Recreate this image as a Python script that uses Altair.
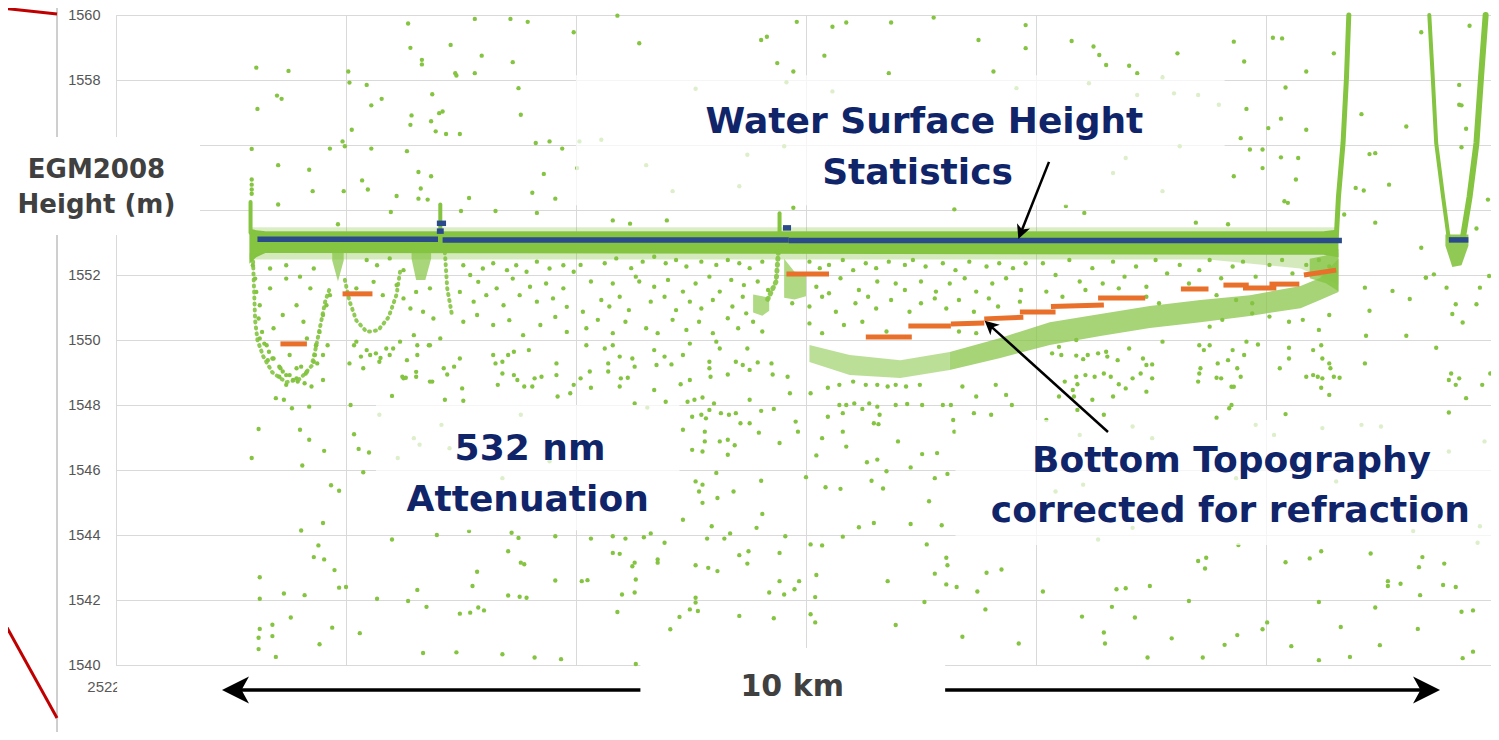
import altair as alt
import pandas as pd

# ---------------- colours / fonts ----------------
GREEN = "#84C441"
BLUE = "#2A4A8C"
ORANGE = "#E8702A"
NAVY = "#10246A"
DARK = "#404040"
GRID = "#D9D9D9"

# ---------------- axes ----------------
X_START_M = 2522000          # along-track distance of left edge (m)
X_TICKS = [0, 2, 4, 6, 8, 10]  # km from left edge
Y_TICKS = list(range(1540, 1561, 2))
Y_HIDDEN = [1554, 1556]        # labels covered by the slide's axis-title box
X_MAX = 1375 / 115

# ---------------- water surface statistics (blue) : x, x2, y ----------------
surface_stats = [
    (1.23, 2.80, 1553.10), (2.84, 5.85, 1553.08), (5.85, 10.66, 1553.06),
    (11.59, 11.76, 1553.08), (2.79, 2.87, 1553.59), (2.79, 2.85, 1553.35),
    (5.80, 5.87, 1553.45),
]

# ---------------- bottom topography (orange) : x, x2, y, y2 ----------------
bottom_topo = [
    (1.43, 1.66, 1549.88, 1549.88), (1.97, 2.23, 1551.42, 1551.42),
    (5.83, 6.20, 1552.03, 1552.03), (6.52, 6.92, 1550.09, 1550.09),
    (6.89, 7.26, 1550.43, 1550.43), (7.26, 7.55, 1550.49, 1550.52),
    (7.55, 7.89, 1550.65, 1550.70), (7.86, 8.17, 1550.86, 1550.86),
    (8.13, 8.59, 1551.03, 1551.08), (8.54, 8.95, 1551.29, 1551.29),
    (9.26, 9.50, 1551.57, 1551.57), (9.63, 9.85, 1551.69, 1551.69),
    (9.80, 10.09, 1551.60, 1551.60), (10.03, 10.29, 1551.72, 1551.72),
    (10.33, 10.61, 1552.00, 1552.15),
]

# ---------------- dense photon returns drawn as bands : name, xs, tops, bottoms, opacity ----------------
dense_bands = [
    ("surface", [1.16, 1.22, 1.30, 10.50, 10.63], [1553.42, 1553.38, 1553.35, 1553.35, 1553.40],
     [1552.35, 1552.55, 1552.68, 1552.62, 1552.55], 1.0),
    ("surface_low", [1.16, 9.5, 10.3, 10.63], [1552.68, 1552.68, 1552.68, 1552.68],
     [1552.48, 1552.48, 1552.2, 1551.7], 0.35),
    ("surface_top", [1.16, 10.63], [1553.47, 1553.47], [1553.35, 1553.35], 0.3),
    ("connector", [10.38, 10.52, 10.63], [1552.5, 1552.6, 1552.8], [1551.9, 1551.75, 1551.5], 0.75),
    ("bed_left", [6.03, 6.38, 6.82, 7.25], [1549.85, 1549.54, 1549.38, 1549.63],
     [1549.32, 1548.92, 1548.83, 1549.08], 0.55),
    ("bed_right", [7.25, 7.69, 8.12, 8.56, 8.99, 9.43, 9.86, 10.30, 10.47, 10.63],
     [1549.63, 1550.06, 1550.55, 1550.80, 1551.05, 1551.23, 1551.38, 1551.66, 1551.91, 1552.5],
     [1549.08, 1549.45, 1549.85, 1550.12, 1550.37, 1550.55, 1550.74, 1550.98, 1551.23, 1551.48], 0.72),
    ("v_blob", [11.56, 11.62, 11.70, 11.76], [1553.25, 1553.25, 1553.25, 1553.25],
     [1552.9, 1552.25, 1552.3, 1552.9], 0.9),
    ("blob_790", [5.81, 5.90, 6.00], [1552.5, 1552.1, 1552.05], [1551.3, 1551.25, 1551.35], 0.65),
    ("blob_760", [5.54, 5.62, 5.68], [1551.4, 1551.35, 1551.3], [1550.85, 1550.75, 1550.9], 0.65),
    ("dip_streak", [1.88, 1.93, 1.98], [1552.7, 1552.7, 1552.7], [1552.45, 1551.80, 1552.45], 0.7),
    ("streak_425", [2.57, 2.61, 2.69, 2.74], [1552.7, 1552.7, 1552.7, 1552.7],
     [1552.5, 1551.85, 1551.85, 1552.5], 0.7),
]

# ---------------- dense photon tracks : name, points, width, opacity ----------------
solid_tracks = [
    ("rise", [(10.61, 1553.08), (10.63, 1554.40), (10.67, 1556.06), (10.70, 1558.09), (10.72, 1560.0)], 5, 1.0),
    ("v_left", [(11.42, 1560.0), (11.45, 1558.09), (11.48, 1556.06), (11.54, 1554.40), (11.59, 1553.1)], 4, 1.0),
    ("v_right", [(11.71, 1553.1), (11.77, 1554.40), (11.83, 1556.06), (11.87, 1558.09), (11.91, 1560.0)], 6, 1.0),
    ("spike1", [(1.17, 1553.3), (1.17, 1554.25)], 4, 1.0),
    ("spike2", [(2.82, 1553.3), (2.82, 1554.17)], 4, 1.0),
    ("spike3", [(5.77, 1553.3), (5.77, 1553.9)], 4, 1.0),
]
dotted_tracks = [
    ("left_u", [(1.19, 1552.6), (1.20, 1551.6), (1.21, 1550.6), (1.23, 1550.0), (1.28, 1549.5), (1.36, 1549.0),
                (1.48, 1548.7), (1.60, 1548.8), (1.70, 1549.2), (1.74, 1549.8), (1.78, 1550.5), (1.82, 1551.2),
                (1.86, 1551.6)], 4, 0.9),
    ("mid_u", [(1.99, 1551.85), (2.03, 1551.2), (2.09, 1550.6), (2.18, 1550.25), (2.28, 1550.3), (2.37, 1550.7),
               (2.44, 1551.4), (2.47, 1552.1)], 4, 0.9),
    ("streak_440", [(2.86, 1552.7), (2.88, 1551.6), (2.92, 1550.8)], 4, 0.9),
    ("streak_760", [(5.76, 1552.7), (5.74, 1551.8), (5.66, 1551.2)], 5, 0.9),
]

# ---------------- scattered photons (km, m) ----------------
ph_top_left = [
    (1.22, 1558.38), (1.50, 1558.28), (1.23, 1557.11), (1.40, 1557.52), (1.44, 1557.42), (1.18, 1555.88),
    (1.41, 1555.38), (1.68, 1555.24), (1.71, 1554.58), (1.41, 1554.17), (1.18, 1554.94), (1.18, 1554.78),
    (1.18, 1554.63), (1.18, 1554.50), (1.86, 1555.89), (1.97, 1556.11), (1.99, 1555.96), (1.93, 1553.56),
    (1.98, 1554.58), (2.02, 1558.26), (2.03, 1557.92), (2.05, 1556.47), (2.18, 1557.85), (2.22, 1557.22),
    (2.31, 1557.42), (2.22, 1555.89), (2.14, 1554.91), (2.19, 1554.63), (2.54, 1559.74), (2.56, 1558.99),
    (2.66, 1558.62), (2.66, 1558.48), (2.57, 1556.91), (2.56, 1556.62), (2.53, 1555.81), (2.63, 1555.17),
    (2.74, 1555.04), (2.65, 1554.66), (2.63, 1554.35), (2.71, 1554.32), (2.39, 1553.94), (2.44, 1554.43),
    (2.75, 1557.56), (2.74, 1556.73), (2.78, 1556.42), (2.87, 1556.34), (2.99, 1556.34), (2.81, 1556.98),
    (2.84, 1557.03), (2.91, 1559.08), (2.95, 1558.21), (2.96, 1558.14), (3.12, 1559.88), (3.12, 1558.21),
    (3.18, 1558.75), (3.43, 1559.88), (3.58, 1559.79), (3.45, 1558.55), (3.50, 1557.75), (3.52, 1556.93),
    (3.65, 1556.06), (3.77, 1556.11), (3.88, 1555.89), (3.72, 1555.11), (3.62, 1554.53), (3.82, 1554.35),
    (3.66, 1553.91), (3.98, 1559.47), (3.30, 1553.97), (3.00, 1553.97), (3.07, 1554.37),
]
ph_below_left = [
    (1.19, 1552.30), (1.21, 1551.89), (1.22, 1551.48), (1.25, 1551.07), (1.24, 1550.66), (1.27, 1550.25),
    (1.31, 1549.84), (1.37, 1549.43), (1.43, 1549.13), (1.48, 1548.92), (1.57, 1548.82), (1.66, 1549.02),
    (1.72, 1549.33), (1.74, 1549.84), (1.77, 1550.25), (1.80, 1550.77), (1.83, 1551.07), (1.86, 1551.38),
    (1.34, 1551.59), (1.48, 1551.89), (1.60, 1551.95), (1.69, 1551.59), (1.72, 1552.20), (1.57, 1551.07),
    (1.63, 1550.56), (1.45, 1550.77), (1.37, 1550.36), (1.66, 1550.05), (1.80, 1549.54), (1.51, 1549.54),
    (1.34, 1552.20), (1.48, 1552.30),
    (2.18, 1552.46), (2.27, 1552.30), (2.38, 1552.51), (2.50, 1552.15), (2.09, 1551.59), (2.24, 1551.79),
    (2.32, 1551.38), (2.44, 1551.69), (2.50, 1551.28), (2.61, 1551.48), (2.73, 1551.59), (2.56, 1550.97),
    (2.67, 1550.87), (2.76, 1550.66), (2.09, 1549.95), (2.21, 1549.54), (2.35, 1549.74), (2.47, 1549.95),
    (2.59, 1550.15), (2.73, 1549.84), (2.82, 1550.05), (2.15, 1549.13), (2.29, 1549.33), (2.50, 1548.82),
    (2.61, 1549.02), (2.73, 1548.72), (2.85, 1549.13),
    (3.02, 1552.30), (3.08, 1552.00), (3.19, 1552.20), (3.28, 1552.36), (3.40, 1552.15), (3.48, 1552.30),
    (3.57, 1552.10), (3.66, 1552.41), (3.77, 1552.20), (3.89, 1552.30), (3.98, 1552.10), (3.15, 1551.79),
    (3.31, 1551.59), (3.45, 1551.89), (3.60, 1551.64), (3.74, 1551.74), (3.89, 1551.59), (2.99, 1551.48),
    (3.11, 1551.18), (3.22, 1551.38), (3.37, 1551.07), (3.51, 1551.38), (3.66, 1551.18), (3.80, 1551.28),
    (3.92, 1551.02), (3.02, 1550.56), (3.14, 1550.77), (3.28, 1550.46), (3.42, 1550.61), (3.54, 1550.15),
    (3.69, 1550.46), (3.82, 1550.71), (3.92, 1550.25),
]
ph_low_left = [
    (1.25, 1550.05), (1.29, 1549.89), (1.33, 1549.64), (1.36, 1549.43), (1.32, 1549.38), (1.42, 1549.18),
    (1.45, 1549.03), (1.51, 1548.92), (1.57, 1549.13), (1.61, 1549.18), (1.65, 1548.97), (1.54, 1548.77),
    (1.58, 1548.72), (1.42, 1548.87), (1.48, 1548.62), (1.64, 1548.67), (1.70, 1548.57), (1.74, 1549.84),
    (1.73, 1549.54), (1.75, 1549.28), (1.80, 1548.77), (1.39, 1548.21), (1.46, 1548.16), (1.53, 1547.90),
    (1.68, 1547.95), (1.84, 1549.84),
    (1.24, 1547.26), (1.60, 1547.24), (1.68, 1546.93), (1.18, 1546.37), (1.81, 1546.59), (1.62, 1546.14),
    (1.87, 1545.53), (1.94, 1545.36), (1.80, 1544.37), (1.61, 1544.14), (1.76, 1543.68), (1.72, 1543.32),
    (1.81, 1543.25), (1.90, 1542.92), (1.25, 1542.70), (1.25, 1542.04), (1.46, 1542.20), (1.64, 1542.15),
    (1.94, 1542.38), (2.00, 1542.40), (1.52, 1541.46), (1.25, 1541.11), (1.36, 1541.24), (1.36, 1540.89),
    (1.24, 1540.84), (1.24, 1540.49), (1.88, 1541.15), (1.77, 1540.64), (1.39, 1540.25), (2.12, 1540.98),
    (2.27, 1542.04), (2.40, 1543.86), (2.62, 1542.31), (2.54, 1541.97), (2.70, 1541.79), (2.79, 1544.00),
    (2.67, 1540.37), (2.96, 1540.39), (2.99, 1541.58), (3.08, 1541.61), (3.15, 1541.77), (3.20, 1541.68),
    (3.10, 1542.43), (3.14, 1542.87), (3.41, 1543.50), (3.52, 1543.15), (3.55, 1543.10), (3.44, 1544.07),
    (3.50, 1543.91), (3.41, 1542.14), (3.51, 1542.10), (3.57, 1542.07), (3.82, 1543.96), (3.82, 1542.60),
    (3.36, 1540.33), (3.64, 1540.23), (3.87, 1540.18), (2.07, 1547.10), (2.11, 1546.65), (2.20, 1546.54),
    (2.15, 1545.93), (2.04, 1548.00),
    (2.07, 1549.84), (2.13, 1549.49), (2.18, 1549.69), (2.26, 1549.59), (2.30, 1549.45), (2.38, 1549.54),
    (2.41, 1549.74), (2.49, 1548.87), (2.52, 1548.84), (2.61, 1548.87), (2.53, 1549.38), (2.62, 1549.54),
    (2.62, 1549.84), (2.72, 1549.84), (2.75, 1548.72), (2.88, 1548.94), (2.94, 1549.18), (2.99, 1549.43),
    (3.01, 1548.51), (3.02, 1548.13), (3.28, 1549.54), (3.30, 1549.28), (3.36, 1549.33), (3.41, 1549.54),
    (3.46, 1549.64), (3.46, 1548.92), (3.49, 1548.77), (3.32, 1548.62), (3.36, 1548.97), (3.55, 1548.57),
    (3.62, 1548.57), (3.64, 1548.82), (3.70, 1548.87), (3.59, 1549.69), (3.83, 1549.28), (3.83, 1548.92),
    (3.84, 1548.26), (3.95, 1548.36), (3.98, 1548.62), (2.40, 1548.28), (2.86, 1548.16), (2.03, 1549.28),
    (2.29, 1547.70), (2.45, 1546.37), (2.64, 1546.78), (2.59, 1546.98), (3.36, 1545.75), (3.52, 1547.70),
    (2.90, 1546.67), (3.07, 1544.12), (2.83, 1547.39), (3.77, 1546.27),
]
ph_top_mid = [
    (4.36, 1559.98), (4.55, 1559.13), (5.92, 1559.79), (5.61, 1559.23), (5.66, 1559.33), (5.75, 1558.52),
    (5.89, 1558.26), (5.83, 1557.93), (6.23, 1559.64), (6.35, 1559.77), (6.16, 1558.75), (6.74, 1559.77),
    (7.11, 1559.92), (6.72, 1558.21), (7.50, 1559.23), (7.63, 1558.26), (7.91, 1559.69), (7.91, 1558.98),
    (4.03, 1556.11), (4.22, 1556.16), (5.04, 1557.73), (4.61, 1555.38), (4.84, 1554.58), (5.42, 1554.73),
    (5.49, 1555.70), (5.89, 1554.07), (5.81, 1555.96), (6.23, 1557.65), (7.29, 1554.02), (7.83, 1557.75),
    (4.01, 1555.29), (4.32, 1553.68), (4.47, 1553.58), (4.79, 1553.68),
]
ph_below_mid = [
    (4.04, 1552.31), (4.25, 1552.36), (4.35, 1552.51), (4.48, 1552.21), (4.58, 1552.41), (4.68, 1552.56),
    (4.78, 1552.36), (4.87, 1552.46), (4.96, 1552.26), (5.09, 1552.41), (5.22, 1552.31), (5.32, 1552.46),
    (5.42, 1552.36), (5.51, 1552.21), (5.62, 1552.41), (6.03, 1552.41), (6.12, 1552.21), (6.20, 1552.31),
    (6.32, 1552.46), (6.41, 1552.15), (6.52, 1552.36), (6.61, 1552.21), (6.72, 1552.41), (6.86, 1552.31),
    (6.93, 1552.46), (7.04, 1552.26), (7.19, 1552.36), (7.30, 1552.15), (7.42, 1552.41), (7.57, 1552.26),
    (7.68, 1552.36), (7.80, 1552.21), (7.91, 1552.36),
    (4.13, 1551.80), (4.32, 1551.74), (4.52, 1551.95), (4.55, 1551.80), (4.68, 1551.64), (4.80, 1551.85),
    (4.93, 1551.49), (5.04, 1551.74), (5.16, 1551.95), (5.25, 1551.49), (5.35, 1551.85), (5.46, 1551.69),
    (5.58, 1551.80), (5.67, 1551.54), (6.09, 1551.64), (6.20, 1551.44), (6.30, 1551.90), (6.46, 1551.54),
    (6.62, 1551.80), (6.78, 1551.74), (6.86, 1551.54), (7.00, 1551.80), (7.13, 1551.49), (7.25, 1551.74),
    (7.38, 1551.90), (7.48, 1551.49), (7.62, 1551.74), (7.74, 1551.90), (7.87, 1551.54),
    (4.06, 1550.87), (4.22, 1551.23), (4.29, 1551.03), (4.38, 1551.33), (4.46, 1550.92), (4.65, 1551.18),
    (4.77, 1551.33), (4.87, 1550.92), (4.99, 1551.18), (5.09, 1550.97), (5.19, 1551.23), (5.36, 1551.03),
    (5.45, 1551.33), (5.48, 1550.82), (5.88, 1551.13), (6.03, 1551.03), (6.14, 1551.33), (6.26, 1550.87),
    (6.43, 1551.13), (6.54, 1551.33), (6.61, 1550.97), (6.74, 1551.23), (6.90, 1550.87), (7.00, 1551.13),
    (7.12, 1551.28), (7.22, 1550.97), (7.33, 1551.23), (7.46, 1550.87), (7.59, 1551.28), (7.67, 1551.03),
    (7.86, 1551.18),
    (4.09, 1550.36), (4.19, 1550.62), (4.32, 1550.21), (4.43, 1550.56), (4.61, 1550.36), (4.71, 1550.21),
    (4.84, 1550.62), (4.96, 1550.31), (5.07, 1550.56), (5.19, 1550.21), (5.32, 1550.67), (5.41, 1550.36),
    (5.54, 1550.56), (5.62, 1550.26), (6.03, 1550.51), (6.14, 1550.21), (6.33, 1550.46), (6.49, 1550.56),
    (6.70, 1550.26), (7.33, 1550.26), (7.48, 1550.21),
]
ph_low_mid = [
    (4.09, 1549.84), (4.25, 1549.74), (4.32, 1549.84), (4.38, 1549.49), (4.49, 1549.43), (4.28, 1549.28),
    (4.12, 1549.03), (4.04, 1548.82), (4.13, 1548.53), (4.28, 1549.03), (4.39, 1548.82), (4.45, 1548.84),
    (4.38, 1548.57), (4.51, 1549.18), (4.68, 1549.69), (4.77, 1549.49), (4.70, 1549.23), (4.83, 1549.25),
    (4.93, 1549.54), (4.99, 1549.89), (5.22, 1549.95), (5.25, 1549.74), (5.16, 1549.33), (5.16, 1549.13),
    (5.17, 1548.87), (5.32, 1548.94), (5.39, 1549.33), (5.45, 1549.23), (5.51, 1549.08), (5.49, 1549.74),
    (5.58, 1549.31), (5.70, 1549.28), (5.71, 1548.94), (5.84, 1548.87), (5.86, 1548.36), (4.99, 1548.77),
    (4.91, 1548.64), (4.68, 1548.46), (4.51, 1548.05), (4.62, 1547.92), (4.78, 1548.10), (4.97, 1548.10),
    (5.03, 1548.16), (5.10, 1548.23), (5.16, 1547.85), (5.20, 1548.05), (5.26, 1547.75), (5.51, 1548.16),
    (5.61, 1547.82), (5.72, 1547.88), (5.91, 1547.49), (5.93, 1547.18), (5.01, 1547.64), (5.09, 1547.70),
    (5.13, 1547.59), (5.33, 1547.70), (5.39, 1547.75), (5.43, 1547.44), (5.51, 1547.44), (5.12, 1547.18),
    (5.12, 1546.88), (5.10, 1546.57), (5.25, 1546.88), (5.32, 1546.93), (5.38, 1546.76), (5.32, 1546.47),
    (5.59, 1547.15), (5.77, 1546.83), (4.93, 1547.24), (5.01, 1546.62), (5.04, 1545.65), (5.10, 1545.55),
    (5.07, 1545.34), (5.10, 1544.99), (5.23, 1545.14), (5.37, 1545.34), (5.22, 1545.91), (5.61, 1545.67),
    (5.62, 1544.65), (5.57, 1544.22), (4.93, 1544.47), (5.18, 1544.27), (5.34, 1544.05), (5.29, 1543.89),
    (5.14, 1543.89), (5.82, 1543.96), (4.13, 1543.89), (4.32, 1543.96), (4.43, 1543.89), (4.59, 1543.93),
    (4.65, 1544.05), (4.77, 1543.76), (4.32, 1543.45), (4.38, 1543.42), (4.51, 1543.15), (4.49, 1543.04),
    (4.71, 1543.25), (4.71, 1543.15), (5.04, 1543.07), (5.15, 1542.99), (5.23, 1542.89), (5.42, 1543.38),
    (5.50, 1543.50), (5.49, 1543.12), (5.77, 1543.45), (5.77, 1542.58), (5.94, 1542.58), (5.90, 1542.33),
    (5.81, 1542.17), (5.68, 1542.23), (4.05, 1542.58), (4.10, 1542.61), (4.52, 1542.63), (4.40, 1542.17),
    (4.51, 1542.23), (5.04, 1542.07), (5.04, 1541.92), (4.99, 1541.71), (5.06, 1541.66), (4.36, 1541.63),
    (4.90, 1541.48), (4.82, 1541.10), (5.42, 1541.51), (5.72, 1541.44), (4.52, 1540.03),
    (6.19, 1547.64), (6.32, 1547.75), (6.32, 1547.18), (6.35, 1546.72), (6.09, 1546.45), (6.14, 1546.98),
    (6.53, 1546.24), (6.62, 1546.32), (6.70, 1545.96), (6.91, 1546.08), (7.01, 1546.49), (7.14, 1546.52),
    (6.80, 1546.88), (7.12, 1545.75), (7.23, 1545.88), (7.28, 1547.54), (7.29, 1547.18), (7.46, 1547.75),
    (7.61, 1547.70), (6.57, 1545.67), (6.67, 1545.43), (6.17, 1545.47), (6.30, 1545.42), (6.00, 1545.78),
    (7.07, 1545.04), (6.46, 1544.24), (6.59, 1544.37), (6.91, 1544.34), (7.18, 1544.30), (6.32, 1543.95),
    (6.04, 1543.71), (6.14, 1543.68), (7.05, 1543.71), (7.22, 1543.30), (7.23, 1543.07), (7.12, 1542.81),
    (7.22, 1542.48), (7.31, 1542.40), (7.49, 1542.26), (7.57, 1542.84), (7.70, 1542.94), (7.56, 1541.71),
    (6.09, 1542.77), (6.08, 1542.09), (6.71, 1542.58), (7.03, 1541.94), (6.04, 1541.56), (6.08, 1541.31),
    (6.78, 1541.23), (7.36, 1540.87), (7.85, 1540.66),
    (6.29, 1548.00), (6.35, 1548.00), (6.42, 1548.05), (6.49, 1547.88), (6.55, 1548.05), (6.62, 1547.95),
    (6.64, 1547.70), (6.59, 1547.44), (6.63, 1547.41), (6.78, 1548.00), (6.88, 1548.03), (7.01, 1548.00),
    (7.19, 1548.00), (7.26, 1548.00), (7.79, 1548.00), (6.04, 1548.36), (6.19, 1548.53), (6.29, 1548.62),
    (6.41, 1548.72), (6.52, 1548.62), (6.62, 1548.62), (6.71, 1548.57), (6.78, 1548.62), (6.87, 1548.57),
    (6.99, 1548.62), (7.36, 1548.57), (7.48, 1548.26), (7.65, 1548.62), (7.74, 1548.31),
]
ph_top_right = [
    (8.31, 1559.20), (8.50, 1559.03), (8.55, 1558.77), (8.61, 1558.46), (8.81, 1558.44), (8.88, 1558.21),
    (9.10, 1558.08), (9.23, 1558.82), (9.72, 1559.18), (9.81, 1558.57), (10.06, 1559.30), (10.14, 1559.28),
    (10.59, 1558.82), (10.35, 1558.26), (10.17, 1557.77), (9.83, 1557.11), (10.13, 1556.81), (10.02, 1556.52),
    (10.35, 1556.47), (9.78, 1556.21), (9.86, 1555.86), (9.97, 1555.86), (10.13, 1555.62), (10.28, 1555.60),
    (9.97, 1555.29), (10.26, 1554.94), (9.72, 1555.04), (10.16, 1554.27), (10.19, 1554.22), (10.83, 1556.95),
    (11.22, 1556.57), (10.90, 1555.72), (10.95, 1555.75), (10.78, 1554.68), (10.85, 1554.60), (11.07, 1554.78),
    (10.95, 1553.61), (11.35, 1559.47), (11.68, 1557.85), (11.68, 1557.24), (11.70, 1557.22), (11.74, 1556.50),
    (11.70, 1555.93), (11.77, 1559.67), (11.93, 1554.32), (11.83, 1553.43), (11.35, 1552.84), (8.42, 1553.91),
    (9.39, 1553.61), (9.67, 1553.56), (10.68, 1553.86), (11.94, 1551.97), (11.46, 1552.02), (11.39, 1551.92),
    (8.46, 1557.90), (8.67, 1555.14), (9.10, 1554.58), (9.20, 1557.59), (9.59, 1557.24), (8.78, 1555.60),
    (9.25, 1555.96), (9.41, 1557.54), (8.88, 1557.54), (8.26, 1554.12),
]
ph_below_right = [
    (8.06, 1552.36), (8.17, 1552.00), (8.29, 1552.46), (8.38, 1551.80), (8.49, 1552.21), (8.58, 1551.74),
    (8.67, 1552.41), (8.77, 1551.95), (8.87, 1552.26), (8.96, 1551.64), (9.04, 1552.46), (9.14, 1552.05),
    (9.25, 1552.31), (9.33, 1551.74), (9.42, 1552.15), (9.51, 1552.46), (9.61, 1551.90), (9.71, 1552.26),
    (9.80, 1552.41), (9.91, 1551.95), (10.03, 1552.31), (10.14, 1552.46), (10.23, 1552.05), (10.35, 1552.31),
    (10.46, 1552.46), (10.55, 1552.26), (8.09, 1551.49), (8.23, 1551.33), (8.43, 1551.54), (8.72, 1551.59),
    (8.96, 1551.33), (9.07, 1551.13), (9.57, 1551.38), (9.74, 1551.23), (9.88, 1551.13),
    (8.35, 1550.00), (9.10, 1549.95), (9.51, 1550.41), (9.62, 1550.62), (9.88, 1550.82), (10.03, 1550.72),
    (10.20, 1550.56), (10.32, 1550.62), (10.46, 1550.31), (10.55, 1550.77),
    (10.86, 1551.61), (10.90, 1550.90), (11.10, 1551.51), (11.25, 1551.26), (11.39, 1551.92), (11.57, 1551.61),
    (11.62, 1550.80), (11.71, 1550.54), (11.86, 1551.61), (11.83, 1551.10), (10.87, 1550.13), (11.22, 1550.13),
    (11.65, 1551.10),
]
ph_low_right = [
    (8.14, 1549.59), (8.20, 1549.79), (8.22, 1549.54), (8.35, 1549.52), (8.41, 1549.41), (8.45, 1549.54),
    (8.54, 1549.59), (8.62, 1549.49), (8.61, 1549.64), (8.71, 1549.38), (8.81, 1549.74), (8.93, 1549.43),
    (8.96, 1549.23), (9.01, 1549.25), (8.91, 1548.97), (8.84, 1548.82), (8.78, 1548.51), (8.72, 1548.64),
    (8.65, 1548.87), (8.59, 1548.97), (8.51, 1548.87), (8.43, 1548.92), (8.35, 1548.87), (8.36, 1548.64),
    (8.32, 1548.46), (8.25, 1548.72), (8.20, 1548.26), (8.33, 1548.26), (8.49, 1548.16), (8.67, 1548.26),
    (8.96, 1548.41), (9.01, 1548.82), (9.42, 1549.84), (9.46, 1549.69), (9.51, 1549.84), (9.43, 1549.13),
    (9.42, 1548.97), (9.41, 1548.72), (9.58, 1549.28), (9.57, 1548.84), (9.61, 1548.82), (9.67, 1549.38),
    (9.71, 1549.69), (9.75, 1549.13), (9.78, 1548.87), (9.81, 1549.54), (9.83, 1549.95), (9.93, 1549.86),
    (9.70, 1548.56), (9.72, 1548.56), (9.70, 1548.00), (9.68, 1547.90), (9.57, 1547.61), (10.20, 1549.76),
    (10.20, 1549.43), (10.12, 1549.13), (10.41, 1549.69), (10.48, 1549.84), (10.49, 1549.43), (10.56, 1549.13),
    (10.55, 1549.28), (10.35, 1548.87), (10.41, 1548.92), (10.45, 1548.87), (10.49, 1548.82), (10.59, 1548.87),
    (10.64, 1548.84), (10.48, 1548.53), (10.55, 1548.31), (10.86, 1549.28), (11.48, 1549.76), (11.61, 1548.97),
    (11.59, 1548.77), (11.68, 1548.82), (11.65, 1548.62), (11.74, 1548.21), (11.88, 1548.62), (11.95, 1548.97),
    (11.59, 1547.77), (10.17, 1547.72), (8.09, 1547.54), (8.36, 1547.85), (8.59, 1547.70),
    (9.76, 1543.69), (9.41, 1543.20), (9.48, 1543.30), (9.47, 1542.97), (10.17, 1543.16), (10.38, 1543.28),
    (10.48, 1543.50), (10.91, 1543.43), (11.36, 1543.32), (11.33, 1543.01), (11.55, 1543.12), (11.06, 1542.58),
    (11.17, 1542.50), (11.06, 1542.43), (11.54, 1542.46), (11.65, 1542.40), (11.34, 1542.15), (8.06, 1542.26),
    (8.70, 1542.33), (8.78, 1542.36), (8.99, 1542.43), (9.33, 1541.97), (8.66, 1541.79), (8.40, 1541.49),
    (8.86, 1541.46), (8.59, 1541.00), (8.60, 1540.66), (9.18, 1540.82), (9.75, 1540.92), (9.64, 1540.62),
    (9.45, 1540.23), (8.97, 1540.23), (10.01, 1541.31), (9.97, 1541.10), (10.46, 1541.94), (10.95, 1541.77),
    (10.65, 1541.17), (10.22, 1540.58), (10.46, 1540.15), (10.73, 1540.25), (10.99, 1540.61), (11.32, 1541.11),
    (11.70, 1541.64), (11.80, 1541.68), (11.80, 1540.41), (11.71, 1540.21),
    (8.84, 1547.34), (9.01, 1546.98), (8.38, 1547.08), (8.17, 1545.34), (8.41, 1545.55), (8.54, 1543.86),
    (8.84, 1544.22), (9.91, 1547.39), (10.07, 1547.08), (10.49, 1547.29), (10.83, 1547.39), (11.00, 1547.34),
    (10.61, 1545.65), (11.28, 1544.12), (11.86, 1544.27), (11.90, 1546.88), (11.59, 1546.57), (9.74, 1545.75),
    (11.84, 1543.76),
]

# ---------------- slide annotations ----------------
label_texts = [  # text, x (km), baseline y (m), font size, colour
    ("EGM2008", -0.17, 1554.98, 26, DARK),
    ("Height (m)", -0.17, 1553.91, 26, DARK),
    ("Water Surface Height", 7.03, 1556.37, 36, NAVY),
    ("Statistics", 6.97, 1554.80, 36, NAVY),
    ("532 nm", 3.60, 1546.31, 36, NAVY),
    ("Attenuation", 3.58, 1544.74, 36, NAVY),
    ("Bottom Topography", 9.70, 1545.94, 36, NAVY),
    ("corrected for refraction", 9.69, 1544.40, 36, NAVY),
    ("10 km", 5.88, 1539.05, 30, DARK),
]
back_boxes = [  # x, x2, y, y2, opacity  (text boxes of the slide)
    (4.00, 9.64, 1558.15, 1554.15, 0.72),
    (2.26, 4.90, 1548.00, 1544.15, 0.72),
    (7.30, 12.10, 1547.54, 1543.69, 0.72),
    (-1.01, 0.73, 1556.25, 1553.23, 1.0),
    (0.01, 12.10, 1539.91, 1537.60, 1.0),
]
km_box = [(4.56, 7.21, 1540.52, 1537.60, 1.0)]
arrow_lines = [  # x, x2, y, y2, width
    (0.99, 11.44, 1539.23, 1539.23, 3.5),
    (8.113, 7.869, 1555.48, 1553.31, 2.5),
    (8.626, 7.599, 1547.17, 1550.45, 2.5),
]
arrow_heads = [  # x, y, angle, size
    (1.039, 1539.23, 180, 729), (11.396, 1539.23, 0, 729),
    (7.869, 1553.31, 111.7, 196), (7.599, 1550.45, 222.1, 196),
]
frame_lines = [  # x, x2, y, y2, colour, width
    (-0.513, -0.513, 1560.46, 1537.60, "#BFBFBF", 1.5),
    (-1.009, -0.513, 1560.22, 1560.03, "#C00000", 3),
    (-1.009, -0.513, 1541.54, 1538.37, "#C00000", 3),
]

# ---------------- tables ----------------
photons = pd.DataFrame(
    [p for lst in (ph_top_left, ph_below_left, ph_low_left, ph_top_mid, ph_below_mid,
                   ph_low_mid, ph_top_right, ph_below_right, ph_low_right) for p in lst],
    columns=["x", "y"])

band_rows = []
for name, xs, tops, bots, op in dense_bands:
    for i, (xv, t, b) in enumerate(zip(xs, tops, bots)):
        band_rows.append({"grp": name, "x": xv, "y": t, "y2": b, "op": op, "i": i})
bands = pd.DataFrame(band_rows)


def track_table(tracks):
    rows = []
    for name, pts, w, op in tracks:
        for i, (xv, yv) in enumerate(pts):
            rows.append({"grp": name, "x": xv, "y": yv, "w": w, "op": op, "i": i})
    return pd.DataFrame(rows)


solid = track_table(solid_tracks)
dotted = track_table(dotted_tracks)

stats = pd.DataFrame(surface_stats, columns=["x", "x2", "y"])
topo = pd.DataFrame(bottom_topo, columns=["x", "x2", "y", "y2"])
texts = pd.DataFrame(label_texts, columns=["t", "x", "y", "fs", "c"])
boxes1 = pd.DataFrame(back_boxes, columns=["x", "x2", "y", "y2", "op"])
boxes2 = pd.DataFrame(km_box, columns=["x", "x2", "y", "y2", "op"])
alines = pd.DataFrame(arrow_lines, columns=["x", "x2", "y", "y2", "w"])
aheads = pd.DataFrame(arrow_heads, columns=["x", "y", "a", "s"])
flines = pd.DataFrame(frame_lines, columns=["x", "x2", "y", "y2", "c", "w"])

# ---------------- encodings ----------------
XS = alt.Scale(domain=[0, X_MAX], nice=False, zero=False)
YS = alt.Scale(domain=[1540, 1560], nice=False, zero=False)
XAX = alt.Axis(values=X_TICKS, grid=True, gridColor=GRID, gridWidth=1, domain=True, domainColor=GRID,
               domainWidth=1, ticks=False, labelFlush=False, labelOverlap=False,
               labelExpr=f"datum.value == 0 ? format({X_START_M}, 'd') : ''",
               labelFont="Liberation Sans", labelFontSize=15, labelColor="#595959", labelPadding=14)
YAX = alt.Axis(values=Y_TICKS, grid=True, gridColor=GRID, gridWidth=1, domain=False, ticks=False,
               labelExpr=f"indexof({Y_HIDDEN}, datum.value) >= 0 ? '' : format(datum.value, 'd')",
               labelFont="Liberation Sans", labelFontSize=14.5, labelColor="#555555",
               labelPadding=16)


def X():
    return alt.X("x:Q", scale=XS, axis=XAX, title=None)


def Y():
    return alt.Y("y:Q", scale=YS, axis=YAX, title=None)


band_layer = alt.Chart(bands).mark_area(color=GREEN, interpolate="linear").encode(
    x=X(), y=Y(), y2="y2:Q", detail="grp:N", opacity=alt.Opacity("op:Q", scale=None))

solid_layer = alt.Chart(solid).mark_line(color=GREEN, strokeCap="round", strokeJoin="round").encode(
    x=X(), y=Y(), detail="grp:N", order="i:Q",
    strokeWidth=alt.StrokeWidth("w:Q", scale=None), opacity=alt.Opacity("op:Q", scale=None))

dotted_layer = alt.Chart(dotted).mark_line(
    color=GREEN, strokeCap="round", strokeJoin="round", strokeDash=[1, 5]).encode(
    x=X(), y=Y(), detail="grp:N", order="i:Q",
    strokeWidth=alt.StrokeWidth("w:Q", scale=None), opacity=alt.Opacity("op:Q", scale=None))

photon_layer = alt.Chart(photons).mark_circle(color=GREEN, size=19, opacity=1).encode(x=X(), y=Y())

stats_layer = alt.Chart(stats).mark_rule(color=BLUE, strokeWidth=5.5).encode(x=X(), x2="x2:Q", y=Y())

topo_layer = alt.Chart(topo).mark_rule(color=ORANGE, strokeWidth=5).encode(
    x=X(), x2="x2:Q", y=Y(), y2="y2:Q")

frame_layer = alt.Chart(flines).mark_rule().encode(
    x=X(), x2="x2:Q", y=Y(), y2="y2:Q", color=alt.Color("c:N", scale=None),
    strokeWidth=alt.StrokeWidth("w:Q", scale=None))

box1_layer = alt.Chart(boxes1).mark_rect(color="white").encode(
    x=X(), x2="x2:Q", y=Y(), y2="y2:Q", opacity=alt.Opacity("op:Q", scale=None))

aline_layer = alt.Chart(alines).mark_rule(color="black").encode(
    x=X(), x2="x2:Q", y=Y(), y2="y2:Q", strokeWidth=alt.StrokeWidth("w:Q", scale=None))

box2_layer = alt.Chart(boxes2).mark_rect(color="white").encode(
    x=X(), x2="x2:Q", y=Y(), y2="y2:Q", opacity=alt.Opacity("op:Q", scale=None))

head_layer = alt.Chart(aheads).mark_point(
    shape="M1,0 L-1,-1 L-0.45,0 L-1,1 Z", filled=True, color="black", opacity=1, strokeWidth=0).encode(
    x=X(), y=Y(), angle=alt.Angle("a:Q", scale=None), size=alt.Size("s:Q", scale=None))

text_layer = alt.Chart(texts).mark_text(
    font="DejaVu Sans", fontWeight="bold", align="center", baseline="alphabetic").encode(
    x=X(), y=Y(), text="t:N", size=alt.Size("fs:Q", scale=None), color=alt.Color("c:N", scale=None))

chart = alt.layer(
    band_layer, solid_layer, dotted_layer, photon_layer, stats_layer, topo_layer,
    frame_layer, box1_layer, aline_layer, box2_layer, head_layer, text_layer,
).properties(
    width=1375, height=650,
    padding={"left": 108, "top": 7, "right": 0, "bottom": 67},
    autosize=alt.AutoSizeParams(type="none"),
).configure_view(strokeWidth=0).configure(background="white")

chart.save("out.html", embed_options={"renderer": "svg", "actions": False})
